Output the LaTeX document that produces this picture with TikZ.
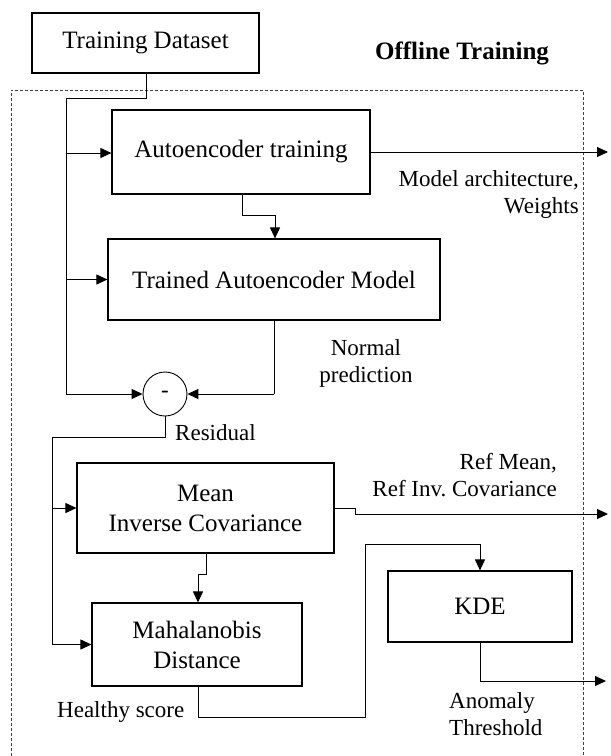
\documentclass[tikz,border=0pt]{standalone}
\usepackage{fontspec}
\setmainfont{Liberation Serif}
\usetikzlibrary{arrows.meta}
\begin{document}
\begin{tikzpicture}[x=1pt,y=-1pt,
  box/.style={draw, line width=1.2pt, rectangle, inner sep=0pt, align=center, font=\fontsize{25}{30}\selectfont},
  lbl/.style={inner sep=0pt, font=\fontsize{23}{27}\selectfont},
  conn/.style={line width=1pt, draw=black},
  arr/.style={conn, -{Triangle[length=11pt,width=10pt]}},
  frame/.style={line width=0.8pt, draw=black!75, dash pattern=on 3pt off 2pt}]
\useasboundingbox (0,0) rectangle (611,756);
% dashed frame
\draw[frame] (11,756) -- (11,90) -- (583,90) -- (583,756);
% boxes
\node[box, minimum width=227pt, minimum height=60pt] (td) at (145.5,43) {Training Dataset};
\node[box, minimum width=258pt, minimum height=84pt] (ae) at (241,152) {Autoencoder training};
\node[box, minimum width=332pt, minimum height=81pt] (tam) at (274,279.5) {Trained Autoencoder Model};
\node[draw, line width=0.9pt, circle, minimum size=44pt, inner sep=0pt, font=\fontsize{23}{27}\selectfont] (circ) at (165,394) {-};
\node[box, minimum width=257pt, minimum height=90pt] (mean) at (205.5,508) {Mean\\Inverse Covariance};
\node[box, minimum width=210pt, minimum height=83pt] (mahal) at (197,644.5) {Mahalanobis\\Distance};
\node[box, minimum width=184pt, minimum height=71pt] (kde) at (480,606.5) {KDE};
% title
\node[inner sep=0pt, font=\fontsize{25}{30}\selectfont\bfseries] (title) at (462,53) {Offline Training};
% output endpoints
\coordinate (o1) at (608,152);
\coordinate (o2) at (608,514);
\coordinate (o3) at (606,681);
% connectors
\coordinate (j1) at (66,98);
\coordinate (j2) at (66,153);
\coordinate (j3) at (66,279.5);
\draw[conn] (td.south -| 146,0) -- (146,98) -- (j1) -- (66,394);
\draw[arr] (66,394) -- (circ.west);
\draw[arr] (j2) -- (ae.west |- j2);
\draw[arr] (j3) -- (tam.west);
\draw[conn] (ae.south -| 242,0) -- (242,215) -- (275,215);
\draw[arr] (275,215) -- (tam.north -| 275,0);
\draw[arr] (ae.east) -- (o1);
\draw[conn] (tam.south -| 274,0) -- (274,394);
\draw[arr] (274,394) -- (circ.east);
\coordinate (j4) at (52,437);
\draw[conn] (circ.south) -- (165,437) -- (j4) -- (52,644.5);
\draw[arr] (52,644.5) -- (mahal.west);
\draw[arr] (52,508) -- (mean.west);
\draw[conn] (mean.east) -- (355,508) -- (355,514);
\draw[arr] (355,514) -- (o2);
\draw[conn] (mean.south -| 206,0) -- (206,574) -- (198,574);
\draw[arr] (198,574) -- (mahal.north -| 198,0);
\draw[conn] (mahal.south -| 198,0) -- (198,717) -- (365,717) -- (365,544) -- (480,544);
\draw[arr] (480,544) -- (kde.north);
\draw[conn] (kde.south) -- (480,681);
\draw[arr] (480,681) -- (o3);
% labels
\node[lbl, align=right, anchor=east] (l1) at (579,194) {Model architecture,\\Weights};
\node[lbl, align=center] (l2) at (366,363.5) {Normal\\prediction};
\node[lbl, anchor=west] (l3) at (175,433) {Residual};
\node[lbl, align=right, anchor=east] (l4) at (557,475.5) {Ref Mean,\\Ref Inv.\ Covariance};
\node[lbl, anchor=west] (l5) at (57,712) {Healthy score};
\node[lbl, align=left, anchor=west] (l6) at (449,714.5) {Anomaly\\Threshold};
\end{tikzpicture}
\end{document}
